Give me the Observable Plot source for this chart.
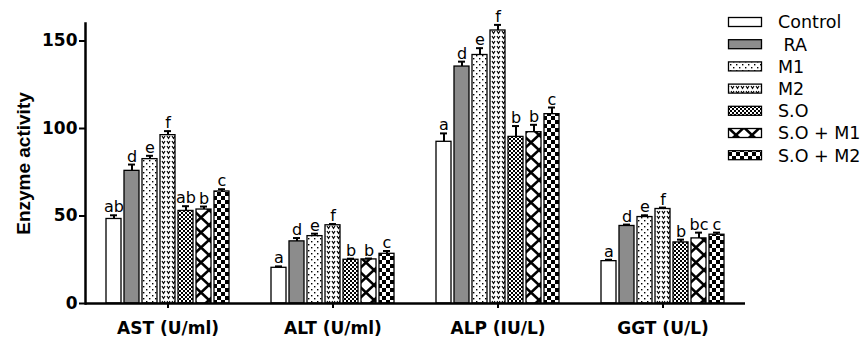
<!DOCTYPE html>
<html><head><meta charset="utf-8">
<script src="https://cdn.jsdelivr.net/npm/d3@7"></script>
<script src="https://cdn.jsdelivr.net/npm/@observablehq/plot@0.6"></script>
<style>
body{margin:0;background:#fff;}
#wrap{position:relative;width:866px;height:338px;overflow:hidden;background:#fff;}
#wrap > svg{position:absolute;left:0;top:0;}
</style></head><body><div id="wrap"></div>
<script>
const groups = ["AST (U/ml)", "ALT (U/ml)", "ALP (IU/L)", "GGT (U/L)"];
const treatments = ["Control", "RA", "M1", "M2", "S.O", "S.O + M1", "S.O + M2"];
const legendLabels = ["Control", "\u00a0RA", "M1", "M2", "S.O", "S.O + M1", "S.O + M2"];
const yTicks = [0, 50, 100, 150];
const yLabel = "Enzyme activity";

const astMean = [48.3, 75.8, 82.5, 96.2, 52.9, 53.7, 64.0];
const astErr  = [2.1, 3.6, 1.9, 2.3, 2.7, 1.7, 1.3];
const astLetters = ["ab", "d", "e", "f", "ab", "b", "c"];

const altMean = [20.4, 35.5, 38.5, 44.7, 25.0, 25.2, 28.4];
const altErr  = [0.8, 1.9, 1.4, 0.7, 0.6, 0.5, 1.6];
const altLetters = ["a", "d", "e", "f", "b", "b", "c"];

const alpMean = [92.4, 135.4, 142.0, 156.0, 95.2, 97.9, 108.2];
const alpErr  = [4.8, 2.8, 3.9, 3.2, 6.2, 4.2, 3.8];
const alpLetters = ["a", "d", "e", "f", "b", "b", "c"];

const ggtMean = [24.2, 44.3, 49.4, 54.0, 34.9, 37.2, 39.3];
const ggtErr  = [0.8, 0.8, 1.0, 0.8, 1.6, 3.3, 1.2];
const ggtLetters = ["a", "d", "e", "f", "b", "bc", "c"];

const means = [astMean, altMean, alpMean, ggtMean];
const errs = [astErr, altErr, alpErr, ggtErr];
const letters = [astLetters, altLetters, alpLetters, ggtLetters];

const data = [];
groups.forEach((g, i) => treatments.forEach((t, j) => data.push({
  group: g, treat: t, mean: means[i][j], err: errs[i][j], letter: letters[i][j]
})));

const fills = ["white", "#8c8c8c", "url(#p-m1)", "url(#p-m2)", "url(#p-so)", "url(#p-som1)", "url(#p-som2)"];

const wrap = d3.select("#wrap");

// pattern definitions
const defsSvg = wrap.append("svg").attr("width", 0).attr("height", 0);
const defs = defsSvg.append("defs");
function pat(id, w, h) {
  const p = defs.append("pattern").attr("id", id).attr("patternUnits", "userSpaceOnUse")
    .attr("width", w).attr("height", h);
  p.append("rect").attr("width", w).attr("height", h).attr("fill", "white");
  return p;
}
{
  const p = pat("p-m1", 6, 6);
  p.append("rect").attr("x", 1).attr("y", 1).attr("width", 1.4).attr("height", 1.4).attr("fill", "black");
  p.append("rect").attr("x", 4).attr("y", 4).attr("width", 1.4).attr("height", 1.4).attr("fill", "black");
}
{
  const p = pat("p-m2", 5, 5);
  p.append("path").attr("d", "M1,1 L2.5,3.4 L4,1").attr("fill", "none").attr("stroke", "black").attr("stroke-width", 1.1);
}
{
  const p = pat("p-so", 4, 4);
  p.append("rect").attr("x", 0).attr("y", 0).attr("width", 2).attr("height", 2).attr("fill", "black");
  p.append("rect").attr("x", 2).attr("y", 2).attr("width", 2).attr("height", 2).attr("fill", "black");
}
{
  const p = pat("p-som1", 16, 15);
  p.append("path").attr("d", "M0,0 L16,15 M16,0 L0,15").attr("stroke", "black").attr("stroke-width", 2.6);
}
{
  const p = pat("p-som2", 8, 8);
  p.append("rect").attr("x", 0).attr("y", 0).attr("width", 4).attr("height", 4).attr("fill", "black");
  p.append("rect").attr("x", 4).attr("y", 4).attr("width", 4).attr("height", 4).attr("fill", "black");
}

const errTop = d => d.mean + d.err;

const chart = Plot.plot({
  width: 866, height: 338,
  marginLeft: 84, marginRight: 121, marginTop: 23, marginBottom: 35,
  style: {fontFamily: "'DejaVu Sans', sans-serif", background: "transparent", color: "black"},
  fx: {domain: groups, padding: 0},
  x: {domain: treatments, paddingInner: 0.15, paddingOuter: 0.95, axis: null},
  y: {domain: [0, 160]},
  color: {domain: treatments, range: fills},
  marks: [
    Plot.barY(data, {fx: "group", x: "treat", y: "mean", fill: "treat", stroke: "black", strokeWidth: 1.3}),
    Plot.ruleX(data, {fx: "group", x: "treat", y1: "mean", y2: errTop, stroke: "black", strokeWidth: 2}),
    Plot.tickY(data, {fx: "group", x: "treat", y: errTop, stroke: "black", strokeWidth: 2, insetLeft: 4, insetRight: 4}),
    Plot.text(data, {fx: "group", x: "treat", y: errTop, text: "letter", dy: -3, lineAnchor: "bottom", fontSize: 16}),
    Plot.ruleY([0], {stroke: "black", strokeWidth: 2.5}),
    Plot.frame({anchor: "left", facetAnchor: "left", stroke: "black", strokeWidth: 2.5}),
    Plot.axisY({ticks: yTicks, tickSize: 6, tickPadding: 2, strokeWidth: 2, fontSize: 17, fontWeight: "bold", label: null}),
    Plot.text([yLabel], {frameAnchor: "left", facetAnchor: "left", rotate: -90, dx: -62, textAnchor: "middle",
      lineAnchor: "middle", fontSize: 19, fontWeight: "bold",
      fontFamily: "'Liberation Sans', Arial, sans-serif", fill: "black"}),
    Plot.axisFx({anchor: "bottom", tickSize: 5, tickPadding: 13, strokeWidth: 2, fontSize: 17, fontWeight: "bold", label: null})
  ]
});
wrap.node().appendChild(chart);

// legend
const leg = wrap.append("svg").attr("width", 866).attr("height", 338)
  .style("font-family", "'DejaVu Sans', sans-serif");
treatments.forEach((t, i) => {
  const cy = 22 + i * 22.2;
  leg.append("rect").attr("x", 728.5).attr("y", cy - 4.5).attr("width", 33).attr("height", 9)
    .attr("fill", fills[i]).attr("stroke", "black").attr("stroke-width", 1.3);
  leg.append("text").attr("x", 778).attr("y", cy).attr("dy", "0.36em").attr("font-size", 17.5)
    .attr("fill", "black").text(legendLabels[i]);
});
</script></body></html>
